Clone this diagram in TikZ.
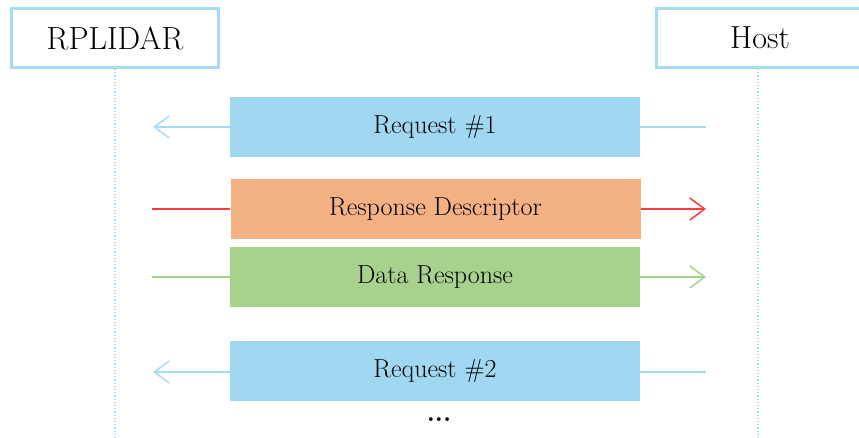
\documentclass[tikz,border=0pt]{standalone}
\usetikzlibrary{arrows.meta}
\definecolor{lblue}{HTML}{A6DCF2}
\definecolor{reqfill}{HTML}{A0D8F2}
\definecolor{respfill}{HTML}{F4B183}
\definecolor{datafill}{HTML}{A9D18E}
\definecolor{redline}{HTML}{FF3B3B}
\begin{document}
\begin{tikzpicture}[x=1pt,y=-1pt,
  actor/.style={draw=lblue,line width=3pt,minimum width=207pt,minimum height=59pt,inner sep=0pt,font=\fontsize{32}{36}\selectfont},
  msg/.style={minimum width=410pt,minimum height=60pt,inner sep=0pt,font=\fontsize{26}{30}\selectfont},
  life/.style={draw=lblue,dotted,line width=1.2pt},
  tip/.style={-{Straight Barb[length=15pt,width=22pt,line width=1.5pt]}},
  conn/.style={line width=1.5pt}]
\useasboundingbox (0,0) rectangle (859,438);
\node[actor] (lidar) at (115,38) {RPLIDAR};
\node[actor] (host) at (760,38) {Host};
\coordinate (lidarend) at (115,438);
\coordinate (hostend) at (758,438);
\draw[life] (lidar.south) -- (lidarend);
\draw[life] (host.south -| hostend) -- (hostend);

\node[msg,fill=reqfill] (req1) at (435,127) {Request \#1};
\node[msg,fill=respfill] (resp) at (435.5,209) {Response Descriptor};
\node[msg,fill=datafill] (data) at (435,277) {Data Response};
\node[msg,fill=reqfill] (req2) at (435,371) {Request \#2};
\node[font=\fontsize{26}{30}\selectfont] (dots) at (439,420) {\textbf{...}};

\coordinate (l1) at (153,127); \coordinate (r1) at (706,127);
\coordinate (l2) at (152,209); \coordinate (r2) at (706,209);
\coordinate (l3) at (152,277); \coordinate (r3) at (706,277);
\coordinate (l4) at (153,372); \coordinate (r4) at (706,372);

\draw[conn,draw=lblue] (r1) -- (req1.east |- r1);
\draw[conn,draw=lblue,tip] (req1.west |- l1) -- (l1);
\draw[conn,draw=redline] (l2) -- (resp.west |- l2);
\draw[conn,draw=redline,tip] (resp.east |- r2) -- (r2);
\draw[conn,draw=datafill] (l3) -- (data.west |- l3);
\draw[conn,draw=datafill,tip] (data.east |- r3) -- (r3);
\draw[conn,draw=lblue] (r4) -- (req2.east |- r4);
\draw[conn,draw=lblue,tip] (req2.west |- l4) -- (l4);
\end{tikzpicture}
\end{document}
